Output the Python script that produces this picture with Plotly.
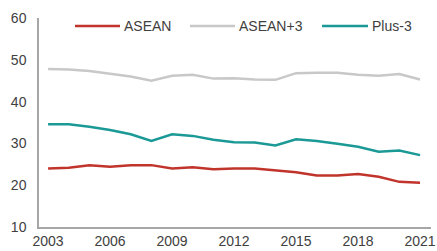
import plotly.graph_objects as go

years = list(range(2003, 2022))
asean = [24.0, 24.2, 24.8, 24.4, 24.8, 24.8, 24.0, 24.3, 23.8, 24.0, 24.0, 23.6, 23.1, 22.3, 22.3, 22.7, 22.0, 20.8, 20.6]
asean3 = [47.8, 47.7, 47.3, 46.6, 46.0, 45.0, 46.2, 46.4, 45.5, 45.6, 45.3, 45.2, 46.8, 46.9, 46.9, 46.4, 46.2, 46.6, 45.3]
plus3 = [34.6, 34.6, 34.0, 33.2, 32.2, 30.6, 32.2, 31.8, 30.9, 30.3, 30.2, 29.5, 31.0, 30.6, 29.9, 29.2, 28.0, 28.3, 27.2]
series_names = ["ASEAN", "ASEAN+3", "Plus-3"]
colors = ["#c0342b", "#c8c8c8", "#1a9996"]
x_ticks = [2003, 2006, 2009, 2012, 2015, 2018, 2021]
y_ticks = [10, 20, 30, 40, 50, 60]

W, H = 437, 251
L, R, T, B = 39, 6, 18, 24
pw, ph = W - L - R, H - T - B

def px_x(p):
    return (p - L) / pw

def px_y(p):
    return (H - B - p) / ph

fig = go.Figure()
for name, vals, c in zip(series_names, [asean, asean3, plus3], colors):
    fig.add_trace(go.Scatter(x=years, y=vals, mode="lines", name=name,
                             line=dict(color=c, width=2.5), showlegend=False,
                             hoverinfo="skip"))

# custom legend (line sample + label) to match the reference's longer keys
legend_pos = [(75, 120, 122), (190, 235, 237), (322, 368, 370)]
ly = px_y(26)
for (x0, x1, xt), name, c in zip(legend_pos, series_names, colors):
    fig.add_shape(type="line", xref="paper", yref="paper", x0=px_x(x0), x1=px_x(x1),
                  y0=ly, y1=ly, line=dict(color=c, width=2.5))
    fig.add_annotation(xref="paper", yref="paper", x=px_x(xt), y=ly, text=name,
                       showarrow=False, xanchor="left", yanchor="middle",
                       font=dict(size=14, color="#404040"))

fig.update_layout(
    width=W, height=H,
    margin=dict(l=L, r=R, t=T, b=B, autoexpand=False),
    paper_bgcolor="white", plot_bgcolor="white",
    font=dict(family="Liberation Sans, Arial", size=14, color="#404040"),
    showlegend=False,
)
fig.update_xaxes(range=[2002.56, 2021.53], tickvals=x_ticks, ticktext=[str(t) for t in x_ticks],
                 showgrid=False, zeroline=False, showline=True, linecolor="#a6a6a6", linewidth=1.5,
                 ticks="", tickfont=dict(size=14), automargin=False)
fig.update_yaxes(range=[10, 60], tickvals=y_ticks, showgrid=False, zeroline=False,
                 showline=True, linecolor="#a6a6a6", linewidth=1.5, ticks="",
                 tickfont=dict(size=14), automargin=False, ticklabelstandoff=8)

fig.write_html("out.html", config={"displayModeBar": False},
               post_script="document.body.style.margin='0';document.body.style.overflow='hidden';")
